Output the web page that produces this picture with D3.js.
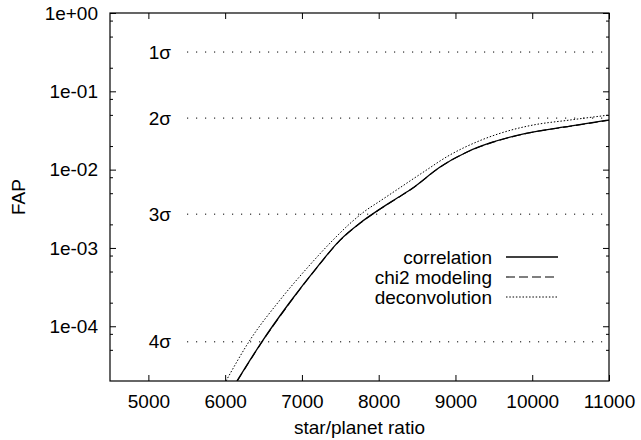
<!DOCTYPE html>
<html>
<head>
<meta charset="utf-8">
<script src="https://cdn.jsdelivr.net/npm/d3@7"></script>
<style>
  body { margin: 0; background: #fff; }
  text { font-family: "Liberation Sans", Arial, sans-serif; fill: #000; }
</style>
</head>
<body>
<script>
// values
const xTicks = [5000, 6000, 7000, 8000, 9000, 10000, 11000];
const yTicks = [1, 1e-1, 1e-2, 1e-3, 1e-4];
const yTickLabels = ["1e+00", "1e-01", "1e-02", "1e-03", "1e-04"];
const sigmaLabels = ["1σ", "2σ", "3σ", "4σ"];
const sigmaValues = [0.3173, 0.0455, 0.0027, 0.0000633];

const corrX = [6154, 6324, 6467, 6845, 7209, 7496, 7757, 8017, 8251, 8434, 8799, 9150, 9450, 9932, 10492, 11000];
const corrY = [2.0e-5, 3.7e-5, 6.1e-5, 2.04e-4, 5.87e-4, 1.26e-3, 2.08e-3, 3.14e-3, 4.4e-3, 5.74e-3, 1.08e-2, 1.68e-2, 2.19e-2, 2.93e-2, 3.6e-2, 4.3e-2];
const chi2X = [6158, 6328, 6471, 6850, 7212, 7500, 7760, 8020, 8255, 8438, 8803, 9154, 9454, 9936, 10495, 11000];
const chi2Y = [2.0e-5, 3.7e-5, 6.1e-5, 2.04e-4, 5.87e-4, 1.26e-3, 2.08e-3, 3.14e-3, 4.4e-3, 5.74e-3, 1.08e-2, 1.68e-2, 2.18e-2, 2.91e-2, 3.58e-2, 4.27e-2];
const deconvX = [6011, 6324, 6714, 7079, 7431, 7626, 7822, 8017, 8251, 8603, 8903, 9320, 9554, 9750, 10010, 10492, 11000];
const deconvY = [2.0e-5, 6.67e-5, 2.16e-4, 5.7e-4, 1.34e-3, 2.05e-3, 2.96e-3, 3.97e-3, 5.65e-3, 9.6e-3, 1.49e-2, 2.35e-2, 2.85e-2, 3.25e-2, 3.71e-2, 4.3e-2, 4.98e-2];

const seriesNames = ["correlation", "chi2 modeling", "deconvolution"];

const W = 641, H = 440;
const margin = { top: 13, right: 32, bottom: 59, left: 110 };
const width = W - margin.left - margin.right;
const height = H - margin.top - margin.bottom;
const fontSize = 19;

const svg = d3.select("body").append("svg")
  .attr("width", W)
  .attr("height", H);

const g = svg.append("g")
  .attr("transform", `translate(${margin.left},${margin.top})`);

const x = d3.scaleLinear().domain([4500, 11000]).range([0, width]);
const y = d3.scaleLog().domain([2e-5, 1]).range([height, 0]);

svg.append("defs").append("clipPath").attr("id", "clip")
  .append("rect").attr("width", width).attr("height", height);

// minor y ticks at 2, 5, 8 per decade
const minorY = [];
[-5, -4, -3, -2, -1].forEach((e) => {
  [2, 5, 8].forEach((m) => {
    const v = m * Math.pow(10, e);
    if (v > 2e-5 && v < 1) minorY.push(v);
  });
});

// x axis (bottom) with inward ticks
g.append("g")
  .attr("transform", `translate(0,${height})`)
  .call(d3.axisBottom(x).tickValues(xTicks).tickSize(-6).tickPadding(14).tickFormat(d3.format("d")))
  .call((a) => a.select(".domain").remove())
  .call((a) => a.selectAll("text").attr("font-size", fontSize).attr("font-family", "Liberation Sans, Arial, sans-serif"));

// top mirror ticks
g.append("g")
  .call(d3.axisTop(x).tickValues(xTicks).tickSize(-6).tickFormat(""))
  .call((a) => a.select(".domain").remove());

// y axis left
g.append("g")
  .call(d3.axisLeft(y).tickValues(yTicks).tickSize(-6).tickPadding(12)
    .tickFormat((d, i) => yTickLabels[i]))
  .call((a) => a.select(".domain").remove())
  .call((a) => a.selectAll("text").attr("font-size", fontSize).attr("font-family", "Liberation Sans, Arial, sans-serif"));

g.append("g")
  .call(d3.axisLeft(y).tickValues(minorY).tickSize(-3).tickFormat(""))
  .call((a) => a.select(".domain").remove());

// y axis right mirror
g.append("g")
  .attr("transform", `translate(${width},0)`)
  .call(d3.axisRight(y).tickValues(yTicks).tickSize(-6).tickFormat(""))
  .call((a) => a.select(".domain").remove());
g.append("g")
  .attr("transform", `translate(${width},0)`)
  .call(d3.axisRight(y).tickValues(minorY).tickSize(-3).tickFormat(""))
  .call((a) => a.select(".domain").remove());

g.selectAll(".tick line").attr("stroke", "#000");

// frame
g.append("rect")
  .attr("width", width)
  .attr("height", height)
  .attr("fill", "none")
  .attr("stroke", "#000")
  .attr("stroke-width", 1.2);

// sigma levels
const sigmaG = g.selectAll(".sigma")
  .data(sigmaValues)
  .enter().append("g")
  .attr("class", "sigma");

sigmaG.append("line")
  .attr("x1", 77)
  .attr("x2", width - 4)
  .attr("y1", (d) => y(d))
  .attr("y2", (d) => y(d))
  .attr("stroke", "#000")
  .attr("stroke-width", 1)
  .attr("stroke-dasharray", "1.2,7.8");

sigmaG.append("text")
  .text((d, i) => sigmaLabels[i])
  .attr("x", 61)
  .attr("y", (d) => y(d))
  .attr("dy", "0.35em")
  .attr("text-anchor", "end")
  .attr("font-size", fontSize);

// curves
const line = d3.line()
  .x((d) => x(d[0]))
  .y((d) => y(d[1]))
  .curve(d3.curveMonotoneX);

const series = [
  { name: seriesNames[0], pts: d3.zip(corrX, corrY), dash: null, w: 1.3 },
  { name: seriesNames[1], pts: d3.zip(chi2X, chi2Y), dash: "9,4", w: 1.1 },
  { name: seriesNames[2], pts: d3.zip(deconvX, deconvY), dash: "1.5,1.8", w: 1 }
];

const curves = g.append("g").attr("clip-path", "url(#clip)");
curves.selectAll("path")
  .data(series)
  .enter().append("path")
  .attr("d", (d) => line(d.pts))
  .attr("fill", "none")
  .attr("stroke", "#000")
  .attr("stroke-width", (d) => d.w)
  .attr("stroke-dasharray", (d) => d.dash);

// legend
const legend = g.selectAll(".legend")
  .data(series)
  .enter().append("g")
  .attr("class", "legend")
  .attr("transform", (d, i) => `translate(0,${244 + i * 20})`);

legend.append("text")
  .text((d) => d.name)
  .attr("x", 382)
  .attr("dy", "0.35em")
  .attr("text-anchor", "end")
  .attr("font-size", fontSize);

legend.append("line")
  .attr("x1", 396)
  .attr("x2", 448)
  .attr("stroke", "#000")
  .attr("stroke-width", (d) => d.w)
  .attr("stroke-dasharray", (d) => d.dash);

// axis titles
svg.append("text")
  .text("star/planet ratio")
  .attr("x", margin.left + width / 2)
  .attr("y", 434)
  .attr("text-anchor", "middle")
  .attr("font-size", fontSize);

svg.append("text")
  .text("FAP")
  .attr("transform", `translate(25,${margin.top + height / 2}) rotate(-90)`)
  .attr("text-anchor", "middle")
  .attr("font-size", fontSize);
</script>
</body>
</html>
